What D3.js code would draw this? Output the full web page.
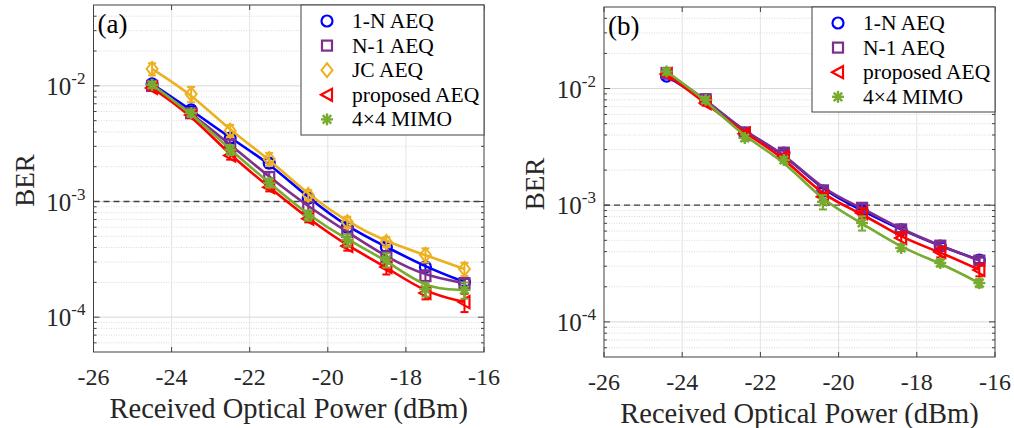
<!DOCTYPE html>
<html>
<head>
<meta charset="utf-8">
<script src="https://cdn.jsdelivr.net/npm/d3@7"></script>
<style>
  body { margin: 0; background: #fff; }
  svg { font-family: "Liberation Serif", "Times New Roman", serif; }
</style>
</head>
<body>
<div id="chart"></div>
<script>
// x positions (dBm) of the measured points
var powerA = [-24.5, -23.5, -22.5, -21.5, -20.5, -19.5, -18.5, -17.5, -16.5];
var powerB = [-24.4, -23.4, -22.4, -21.4, -20.4, -19.4, -18.4, -17.4, -16.4];

// panel (a) BER values
var a1N = [0.0104, 0.0062, 0.00354, 0.00215, 0.00107, 0.00060, 0.000405, 0.000272, 0.000201];
var aN1 = [0.0100, 0.0058, 0.00310, 0.00163, 0.00090, 0.000546, 0.000331, 0.000227, 0.000197];
var aJC = [0.0140, 0.0085, 0.00410, 0.00233, 0.00114, 0.000665, 0.000447, 0.000345, 0.000261];
var aProp = [0.0096, 0.0056, 0.00250, 0.00133, 0.00071, 0.000413, 0.000272, 0.000162, 0.000135];
var aMimo = [0.0102, 0.0058, 0.00280, 0.00145, 0.00076, 0.000465, 0.000313, 0.000175, 0.000172];

// panel (a) relative error bar half-widths
var a1NErr = [0.06, 0.07, 0.10, 0.09, 0.08, 0.09, 0.08, 0.08, 0.07];
var aN1Err = [0.07, 0.08, 0.12, 0.10, 0.12, 0.10, 0.12, 0.12, 0.10];
var aJCErr = [0.12, 0.15, 0.12, 0.13, 0.10, 0.11, 0.10, 0.14, 0.13];
var aPropErr = [0.05, 0.06, 0.08, 0.08, 0.07, 0.09, 0.14, 0.12, 0.18];
var aMimoErr = [0.06, 0.07, 0.10, 0.09, 0.10, 0.12, 0.14, 0.14, 0.16];

// panel (b) BER values
var b1N = [0.0128, 0.0080, 0.00416, 0.00280, 0.00132, 0.00090, 0.000614, 0.000447, 0.000339];
var bN1 = [0.0136, 0.0081, 0.00420, 0.00282, 0.00134, 0.00095, 0.000620, 0.000450, 0.000335];
var bProp = [0.0133, 0.0075, 0.00410, 0.00260, 0.00118, 0.000857, 0.000524, 0.000397, 0.000279];
var bMimo = [0.0140, 0.0080, 0.00377, 0.00244, 0.00107, 0.000705, 0.000430, 0.000320, 0.000215];

var b1NErr = [0.05, 0.05, 0.05, 0.05, 0.06, 0.07, 0.05, 0.06, 0.06];
var bN1Err = [0.06, 0.05, 0.06, 0.06, 0.08, 0.08, 0.06, 0.07, 0.06];
var bPropErr = [0.05, 0.05, 0.06, 0.06, 0.08, 0.10, 0.12, 0.10, 0.12];
var bMimoErr = [0.06, 0.06, 0.06, 0.06, 0.14, 0.14, 0.06, 0.07, 0.08];

// axis ticks
var xTicks = [-26, -24, -22, -20, -18, -16];
var yTicks = [1e-2, 1e-3, 1e-4];
var yTickExp = ["-2", "-3", "-4"];
var berLimit = 1e-3;

var colors = {
  "1-N AEQ": "#0000ff",
  "N-1 AEQ": "#7e2f8e",
  "JC AEQ": "#edb120",
  "proposed AEQ": "#ff0000",
  "4\u00d74 MIMO": "#77ac30"
};
var symbols = {
  "1-N AEQ": "circle",
  "N-1 AEQ": "square",
  "JC AEQ": "diamond",
  "proposed AEQ": "triangle",
  "4\u00d74 MIMO": "asterisk"
};

var svg = d3.select("#chart").append("svg")
  .attr("width", 1014)
  .attr("height", 428);

// draws one marker centred at 0,0
function drawMarker(g, kind, color) {
  if (kind == "circle") {
    g.append("circle").attr("r", 5.5).attr("fill", "none")
      .attr("stroke", color).attr("stroke-width", 2.2);
  } else if (kind == "square") {
    g.append("rect").attr("x", -5).attr("y", -5).attr("width", 10).attr("height", 10)
      .attr("fill", "none").attr("stroke", color).attr("stroke-width", 2.2);
  } else if (kind == "diamond") {
    g.append("path").attr("d", "M0,-7L5.5,0L0,7L-5.5,0Z")
      .attr("fill", "none").attr("stroke", color).attr("stroke-width", 2);
  } else if (kind == "triangle") {
    g.append("path").attr("d", "M-6,0L5,-6L5,6Z")
      .attr("fill", "none").attr("stroke", color).attr("stroke-width", 2.2);
  } else {
    for (var k = 0; k < 4; k++) {
      g.append("line").attr("x1", 0).attr("y1", -6).attr("x2", 0).attr("y2", 6)
        .attr("transform", "rotate(" + k * 45 + ")")
        .attr("stroke", color).attr("stroke-width", 2.4);
    }
  }
}

function drawPanel(cfg) {
  var x = d3.scaleLinear().domain([-26, -16]).range([cfg.left, cfg.right]);
  var y = d3.scaleLog().domain([5e-5, 5e-2]).range([cfg.bottom, cfg.top]);
  var g = svg.append("g");

  // minor grid on log axis
  var minors = [];
  [1e-5, 1e-4, 1e-3, 1e-2].forEach(function (d) {
    for (var m = 2; m <= 9; m++) {
      var v = d * m;
      if (v > 5e-5 && v < 5e-2) minors.push(v);
    }
  });
  g.selectAll(".minor").data(minors).enter().append("line")
    .attr("x1", cfg.left).attr("x2", cfg.right)
    .attr("y1", function (d) { return y(d); })
    .attr("y2", function (d) { return y(d); })
    .attr("stroke", "#d0d0d0").attr("stroke-width", 0.8)
    .attr("stroke-dasharray", "1,1.5");

  // major grid
  g.selectAll(".gx").data(xTicks.slice(1, -1)).enter().append("line")
    .attr("x1", function (d) { return x(d); })
    .attr("x2", function (d) { return x(d); })
    .attr("y1", cfg.top).attr("y2", cfg.bottom)
    .attr("stroke", "#e3e3e3").attr("stroke-width", 1);
  g.selectAll(".gy").data(yTicks).enter().append("line")
    .attr("x1", cfg.left).attr("x2", cfg.right)
    .attr("y1", function (d) { return y(d); })
    .attr("y2", function (d) { return y(d); })
    .attr("stroke", "#d8d8d8").attr("stroke-width", 1);

  // BER limit
  g.append("line")
    .attr("x1", cfg.left).attr("x2", cfg.right)
    .attr("y1", y(berLimit)).attr("y2", y(berLimit))
    .attr("stroke", "#404040").attr("stroke-width", 1.3)
    .attr("stroke-dasharray", "6,4");

  // fitted curves, error bars and markers
  var line = d3.line()
    .x(function (d) { return x(d.p); })
    .y(function (d) { return y(d.v); })
    .curve(d3.curveBasis);

  cfg.series.forEach(function (s) {
    var pts = s.values.map(function (v, i) {
      return { p: cfg.power[i], v: v, e: s.err[i] };
    });
    var col = colors[s.name];
    g.append("path").datum(pts)
      .attr("d", line)
      .attr("fill", "none")
      .attr("stroke", col)
      .attr("stroke-width", 2.6);

    var eb = g.append("g").attr("stroke", col).attr("stroke-width", 2);
    pts.forEach(function (d) {
      var cx = x(d.p), y1 = y(d.v * (1 + d.e)), y2 = y(d.v * (1 - d.e));
      eb.append("line").attr("x1", cx).attr("x2", cx).attr("y1", y1).attr("y2", y2);
      eb.append("line").attr("x1", cx - 4).attr("x2", cx + 4).attr("y1", y1).attr("y2", y1);
      eb.append("line").attr("x1", cx - 4).attr("x2", cx + 4).attr("y1", y2).attr("y2", y2);
    });

    pts.forEach(function (d) {
      var mg = g.append("g").attr("transform", "translate(" + x(d.p) + "," + y(d.v) + ")");
      drawMarker(mg, symbols[s.name], col);
    });
  });

  // box
  g.append("rect")
    .attr("x", cfg.left).attr("y", cfg.top)
    .attr("width", cfg.right - cfg.left).attr("height", cfg.bottom - cfg.top)
    .attr("fill", "none").attr("stroke", "#404040").attr("stroke-width", 1);

  // tick marks, both sides
  var tk = g.append("g").attr("stroke", "#404040").attr("stroke-width", 1);
  xTicks.forEach(function (d) {
    tk.append("line").attr("x1", x(d)).attr("x2", x(d)).attr("y1", cfg.bottom).attr("y2", cfg.bottom - 5);
    tk.append("line").attr("x1", x(d)).attr("x2", x(d)).attr("y1", cfg.top).attr("y2", cfg.top + 5);
  });
  yTicks.forEach(function (d) {
    tk.append("line").attr("x1", cfg.left).attr("x2", cfg.left + 6).attr("y1", y(d)).attr("y2", y(d));
    tk.append("line").attr("x1", cfg.right).attr("x2", cfg.right - 6).attr("y1", y(d)).attr("y2", y(d));
  });
  minors.forEach(function (d) {
    tk.append("line").attr("x1", cfg.left).attr("x2", cfg.left + 3).attr("y1", y(d)).attr("y2", y(d));
    tk.append("line").attr("x1", cfg.right).attr("x2", cfg.right - 3).attr("y1", y(d)).attr("y2", y(d));
  });

  // x tick labels
  g.selectAll(".xl").data(xTicks).enter().append("text")
    .attr("x", function (d) { return x(d); })
    .attr("y", cfg.bottom + 33)
    .attr("text-anchor", "middle")
    .attr("font-size", 24)
    .attr("fill", "#262626")
    .text(function (d) { return d; });

  // y tick labels: 10 with superscript exponent
  yTicks.forEach(function (d, i) {
    var t = g.append("text")
      .attr("x", cfg.left - 8)
      .attr("y", y(d) + 9)
      .attr("text-anchor", "end")
      .attr("fill", "#262626")
      .attr("font-size", 25);
    t.append("tspan").text("10");
    t.append("tspan").attr("dy", -11).attr("font-size", 17).text(yTickExp[i]);
  });

  // axis titles
  g.append("text")
    .attr("x", (cfg.left + cfg.right) / 2)
    .attr("y", cfg.bottom + 66)
    .attr("text-anchor", "middle")
    .attr("font-size", 28.5)
    .attr("fill", "#262626")
    .text("Received Optical Power (dBm)");
  g.append("text")
    .attr("transform", "translate(" + (cfg.left - 60) + "," + ((cfg.top + cfg.bottom) / 2 + 2) + ") rotate(-90)")
    .attr("text-anchor", "middle")
    .attr("font-size", 27)
    .attr("fill", "#262626")
    .text("BER");

  // panel label
  g.append("text")
    .attr("x", cfg.left + 4).attr("y", cfg.top + 28)
    .attr("font-size", 27)
    .attr("fill", "#000")
    .text(cfg.label);

  // legend
  var lg = g.append("g");
  var lh = 25 * cfg.series.length + 5;
  lg.append("rect")
    .attr("x", cfg.right - 183).attr("y", cfg.top)
    .attr("width", 183).attr("height", lh)
    .attr("fill", "#fff").attr("stroke", "#404040").attr("stroke-width", 1);
  cfg.series.forEach(function (s, i) {
    var ly = cfg.top + 16 + i * 24.6;
    var mg = lg.append("g").attr("transform", "translate(" + (cfg.right - 157) + "," + ly + ")");
    drawMarker(mg, symbols[s.name], colors[s.name]);
    lg.append("text")
      .attr("x", cfg.right - 132)
      .attr("y", ly + 7)
      .attr("font-size", 21.5)
      .attr("fill", "#000")
      .text(s.name);
  });
}

drawPanel({
  label: "(a)",
  left: 93.5, right: 484, top: 5, bottom: 352,
  power: powerA,
  series: [
    { name: "1-N AEQ", values: a1N, err: a1NErr },
    { name: "N-1 AEQ", values: aN1, err: aN1Err },
    { name: "JC AEQ", values: aJC, err: aJCErr },
    { name: "proposed AEQ", values: aProp, err: aPropErr },
    { name: "4\u00d74 MIMO", values: aMimo, err: aMimoErr }
  ]
});

drawPanel({
  label: "(b)",
  left: 604, right: 995, top: 7, bottom: 357,
  power: powerB,
  series: [
    { name: "1-N AEQ", values: b1N, err: b1NErr },
    { name: "N-1 AEQ", values: bN1, err: bN1Err },
    { name: "proposed AEQ", values: bProp, err: bPropErr },
    { name: "4\u00d74 MIMO", values: bMimo, err: bMimoErr }
  ]
});
</script>
</body>
</html>
